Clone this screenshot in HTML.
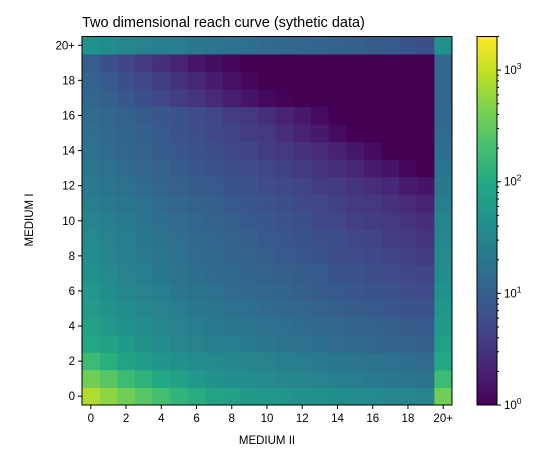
<!DOCTYPE html>
<html><head><meta charset="utf-8"><style>
html,body{margin:0;padding:0;background:#fff;}
svg{display:block;font-family:"Liberation Sans","DejaVu Sans",sans-serif;}
</style></head><body>
<svg id="chart" width="558" height="454" xmlns="http://www.w3.org/2000/svg">
<text x="82" y="27" font-size="14.5" fill="#000">Two dimensional reach curve (sythetic data)</text>
<text x="267" y="444" font-size="11.5" text-anchor="middle">MEDIUM II</text>
<text x="33" y="220" font-size="11.5" text-anchor="middle" transform="rotate(-90 33 220)">MEDIUM I</text>
<g id="cells"></g>
<g id="axes"></g>
<g id="cbar"></g>
</svg>
<script>
const categories = ["0","1","2","3","4","5","6","7","8","9","10","11","12","13","14","15","16","17","18","19","20+"];
const tickLabels = ["0","2","4","6","8","10","12","14","16","18","20+"];
const cbarTicks = [1,10,100,1000];
// rows from MEDIUM I = 0 (bottom) to 20+ (top); columns MEDIUM II 0..19, 20+
const values = [
[800,550,380,260,200,140,110,80,70,60,56,52,48,45,41,38,36,33,33,30,380],
[380,280,175,130,95,76,56,48,41,38,36,33,30,28,26,24,22,21,19,18,175],
[175,120,80,65,52,45,38,36,33,30,28,26,24,22,21,19,18,17,15.5,14.3,95],
[95,76,60,48,38,33,28,26,24,22,21,18,17,15.5,14.3,13,12,11.3,10.5,9.8,70],
[76,56,45,38,33,28,24,22,21,19,17,15.5,14.3,13,12,11.3,10.5,9.8,9,8.4,60],
[65,48,38,33,28,24,21,19,17,15.5,14.3,13,12,10.5,9.8,9,8.4,7.8,7.2,6.7,52],
[56,41,33,28,24,21,18,17,14.3,13,12,11.3,9.8,9,8.4,7.8,7.2,6.7,6.2,5.7,45],
[45,36,28,24,21,18,15.5,14.3,13,11.3,10.5,9.8,9,8.4,7.2,6.7,6.2,5.7,4.9,4.6,38],
[38,30,26,22,19,17,14.3,13,11.3,10.5,9.8,8.4,7.8,7.2,6.2,5.7,5.3,4.6,4.2,3.6,36],
[36,28,24,21,18,15.5,13,12,10.5,9.8,8.4,7.8,7.2,6.2,5.7,4.9,4.6,3.9,3.6,3.1,33],
[30,26,22,18,15.5,14.3,12,10.5,9.8,8.4,7.8,6.7,6.2,5.3,4.9,4.2,3.9,3.4,3.1,2.7,30],
[26,22,19,17,14.3,12,10.5,9.8,8.4,7.8,6.7,6.2,5.3,4.9,4.2,3.6,3.4,2.9,2.5,2.1,24],
[22,19,17,14.3,12,10.5,9,8.4,7.2,6.7,5.7,5.3,4.6,3.9,3.6,3.1,2.7,2.3,1.8,1.5,21],
[19,17,14.3,12,10.5,9,7.8,7.2,6.2,5.7,4.9,4.2,3.6,3.1,2.7,2.3,1.8,1.5,1.15,1,18],
[17,14.3,12,10.5,9,7.8,6.7,6.2,5.3,4.6,3.9,3.4,2.9,2.5,2,1.6,1.25,1,1,1,15.5],
[15.5,13,11.3,9.8,8.4,7.2,6.2,5.3,4.6,3.9,3.4,2.7,2.1,1.7,1.25,1,1,1,1,1,14.3],
[14.3,12,10.5,9,7.8,6.7,5.7,4.9,3.9,3.4,2.7,2.1,1.7,1.25,1,1,1,1,1,1,13],
[12,10,8,6.5,5,4,3.1,2.4,1.9,1.5,1.2,1.05,1,1,1,1,1,1,1,1,12],
[11,8.5,6.5,5,4,3,2.3,1.8,1.4,1.15,1,1,1,1,1,1,1,1,1,1,12],
[9.5,6.5,4.7,3.5,2.8,2.1,1.6,1.3,1.1,1,1,1,1,1,1,1,1,1,1,1,12],
[45,38,33,28,26,24,21,19,17,15.5,14.3,13,12,11.3,10.5,9.8,9,8.4,7.2,6.2,45]
];
const vmin = 1, vmax = 2000;
const NS = "http://www.w3.org/2000/svg";
const X0 = 82, X1 = 452, Y0 = 36.5, Y1 = 405;
const n = categories.length;
const cw = (X1 - X0) / n, ch = (Y1 - Y0) / n;
const xPos = i => X0 + i * cw;
const yPos = j => Y1 - (j + 1) * ch;
const vir = ["#440154","#482475","#414487","#355f8d","#2a788e","#21918c","#22a884","#44bf70","#7ad151","#bddf26","#fde725"];
function hex(h){return [1,3,5].map(k=>parseInt(h.substr(k,2),16));}
function color(v){
  let t = (Math.log10(Math.max(v,vmin)) - Math.log10(vmin)) / (Math.log10(vmax) - Math.log10(vmin));
  t = Math.min(1, Math.max(0, t)) * 10;
  const i = Math.min(9, Math.floor(t)), f = t - i;
  const a = hex(vir[i]), b = hex(vir[i+1]);
  return "rgb(" + a.map((c,k)=>Math.round(c + (b[k]-c)*f)).join(",") + ")";
}
function el(tag, attrs, parent){const e=document.createElementNS(NS,tag);for(const k in attrs)e.setAttribute(k,attrs[k]);parent.appendChild(e);return e;}
const cells = document.getElementById("cells");
values.forEach((row, j) => row.forEach((v, i) => {
  const r = el("rect", {x: xPos(i), y: yPos(j), width: cw + 0.4, height: ch + 0.4, fill: color(v)}, cells);
  
  
}));
const axes = document.getElementById("axes");
const frame = el("rect", {x: X0, y: Y0, width: X1 - X0, height: Y1 - Y0, fill: "none", stroke: "#000", "stroke-width": 1}, axes);


tickLabels.forEach(lab => {
  const idx = categories.indexOf(lab);
  const cx = xPos(idx) + cw / 2;
  el("line", {x1: cx, x2: cx, y1: Y1, y2: Y1 + 4, stroke: "#000"}, axes);
  const tx = el("text", {x: cx, y: Y1 + 17, "font-size": 11.5, "text-anchor": "middle"}, axes);
  tx.textContent = lab;
  
  
  const cy = yPos(idx) + ch / 2;
  el("line", {x1: X0 - 4, x2: X0, y1: cy, y2: cy, stroke: "#000"}, axes);
  const ty = el("text", {x: X0 - 7, y: cy + 4, "font-size": 11.5, "text-anchor": "end"}, axes);
  ty.textContent = lab;
  
  
});
const cbar = document.getElementById("cbar");
const CX0 = 477, CX1 = 497;
const cy = v => Y1 - (Math.log10(v) - Math.log10(vmin)) / (Math.log10(vmax) - Math.log10(vmin)) * (Y1 - Y0);
const steps = 120;
for (let s = 0; s < steps; s++) {
  const v0 = Math.pow(10, Math.log10(vmax) * s / steps), v1 = Math.pow(10, Math.log10(vmax) * (s + 1) / steps);
  el("rect", {x: CX0, y: cy(v1), width: CX1 - CX0, height: cy(v0) - cy(v1) + 0.5, fill: color(Math.sqrt(v0 * v1))}, cbar);
}
el("rect", {x: CX0, y: Y0, width: CX1 - CX0, height: Y1 - Y0, fill: "none", stroke: "#000"}, cbar);
for (let d = 0; d < 4; d++) for (let m = 2; m <= 9; m++) {
  const v = m * Math.pow(10, d);
  if (v > vmax) continue;
  el("line", {x1: CX1, x2: CX1 + 2, y1: cy(v), y2: cy(v), stroke: "#000"}, cbar);
}
cbarTicks.forEach(v => {
  const y = cy(v);
  el("line", {x1: CX1, x2: CX1 + 4, y1: y, y2: y, stroke: "#000"}, cbar);
  const t = el("text", {x: CX1 + 7, y: y + 4, "font-size": 11.5}, cbar);
  
  
  t.appendChild(document.createTextNode("10"));
  const sup = el("tspan", {dy: -5, "font-size": 8.5}, t);
  sup.textContent = String(Math.round(Math.log10(v)));
});
</script>
</body></html>
